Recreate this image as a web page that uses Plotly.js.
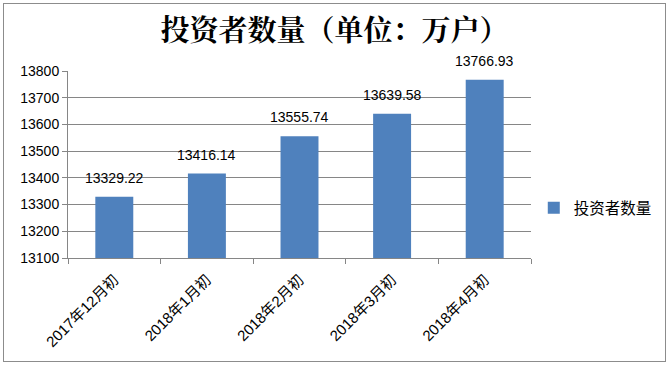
<!DOCTYPE html>
<html><head><meta charset="utf-8">
<script src="https://cdn.plot.ly/plotly-3.0.1.min.js"></script>
<style>
html,body{margin:0;padding:0;background:#fff;}
#wrap{position:relative;width:669px;height:365px;}
#chart{width:669px;height:365px;}
#frame{position:absolute;left:3px;top:3px;width:661px;height:357px;border:1px solid #8c8c8c;pointer-events:none;}
</style></head>
<body>
<div id="wrap"><div id="chart"></div><div id="frame"></div></div>
<script>
const categories = ["2017年12月初","2018年1月初","2018年2月初","2018年3月初","2018年4月初"];
const values = [13329.22, 13416.14, 13555.74, 13639.58, 13766.93];
const seriesName = "投资者数量";
const yTicks = [13100,13200,13300,13400,13500,13600,13700,13800];

const FONT = "Liberation Sans, Arial, 'Noto Sans CJK SC', sans-serif";
const trace = {
  type: 'bar', x: categories, y: values, name: seriesName,
  marker: {color: '#4F81BD'},
  showlegend: true
};
const labels = categories.map((c, i) => ({
  x: c, y: values[i], xref: 'x', yref: 'y', text: values[i].toFixed(2),
  showarrow: false, yanchor: 'bottom', yshift: 9,
  font: {family: FONT, size: 14, color: '#000'}
}));
const layout = {
  width: 669, height: 365,
  margin: {l: 68, r: 138, t: 71, b: 107},
  paper_bgcolor: '#fff', plot_bgcolor: '#fff',
  font: {family: FONT, size: 14, color: '#000'},
  title: {text: '投资者数量（单位：万户）', x: 0.5, xref: 'container', xanchor: 'center', y: 0.915, yref: 'container', yanchor: 'middle',
    font: {family: "'Noto Serif CJK SC','Noto Sans CJK SC', serif", size: 29, weight: 'bold', color: '#000'}},
  bargap: 0.59,
  annotations: labels,
  xaxis: {type: 'category', tickangle: -45, showline: true, linecolor: '#868686', linewidth: 1,
    ticks: 'outside', ticklen: 5, tickcolor: '#868686', tickson: 'boundaries', showgrid: false,
    ticklabelstandoff: 6,
    tickfont: {family: FONT, size: 15}},
  yaxis: {range: [13100, 13800], tickvals: yTicks, ticktext: yTicks.map(String), showline: true, linecolor: '#868686', linewidth: 1,
    ticks: 'outside', ticklen: 5, tickcolor: '#868686', showgrid: true, gridcolor: '#868686', gridwidth: 1,
    zeroline: false, tickfont: {family: FONT, size: 14}},
  legend: {x: 1.006, xanchor: 'left', y: 0.267, yanchor: 'middle', font: {family: FONT, size: 15.5}, itemwidth: 30},
};
Plotly.newPlot('chart', [trace], layout, {displayModeBar: false, staticPlot: true});
</script>
</body></html>
